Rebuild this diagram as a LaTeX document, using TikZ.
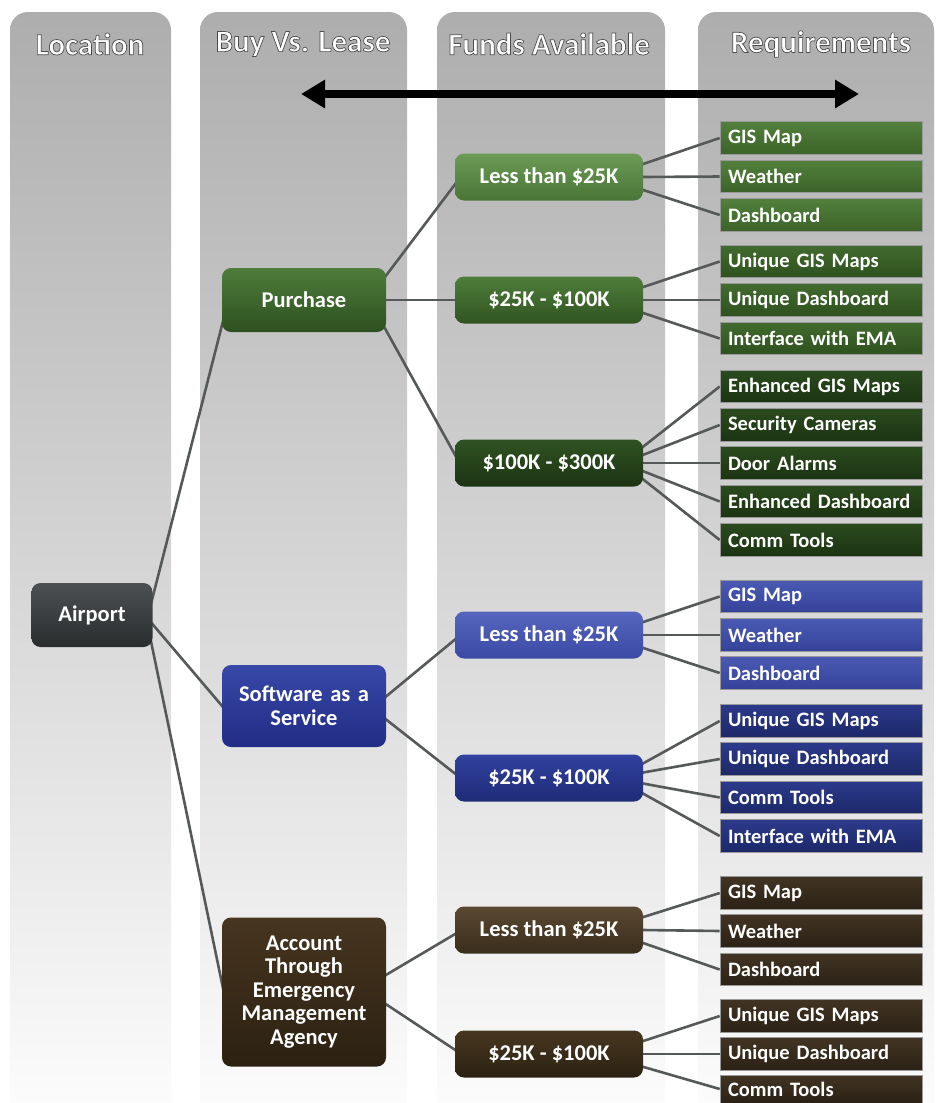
\documentclass[tikz,border=0pt]{standalone}
\usepackage{fontspec}
\setmainfont{Carlito}
\usetikzlibrary{calc,arrows.meta}
\pgfdeclarelayer{cols}
\pgfdeclarelayer{links}
\pgfsetlayers{cols,links,main}
\newcommand{\hdrtext}[1]{\special{pdf:literal direct 2 Tr 0.7 w 0.3 0.3 0.3 RG}#1\special{pdf:literal direct 0 Tr 0.4 w}}
\definecolor{linkc}{HTML}{56595A}
\definecolor{apT}{HTML}{4C5052}\definecolor{apB}{HTML}{2A2D2E}
\definecolor{puT}{HTML}{4F7C3A}\definecolor{puB}{HTML}{2C5020}
\definecolor{saT}{HTML}{3848A8}\definecolor{saB}{HTML}{212D86}
\definecolor{acT}{HTML}{46351F}\definecolor{acB}{HTML}{2C2112}
\definecolor{g1T}{HTML}{6C9B56}\definecolor{g1B}{HTML}{497536}
\definecolor{g2T}{HTML}{4F7D3A}\definecolor{g2B}{HTML}{2F5421}
\definecolor{g3T}{HTML}{2F5322}\definecolor{g3B}{HTML}{1C3313}
\definecolor{b1T}{HTML}{5666BE}\definecolor{b1B}{HTML}{3A4AA5}
\definecolor{b2T}{HTML}{3142A0}\definecolor{b2B}{HTML}{1E2B76}
\definecolor{r1T}{HTML}{5A4932}\definecolor{r1B}{HTML}{3A2D1C}
\definecolor{r2T}{HTML}{46361F}\definecolor{r2B}{HTML}{2C2213}
\definecolor{qgAT}{HTML}{52803C}\definecolor{qgAB}{HTML}{3C6329}
\definecolor{qgBT}{HTML}{426B2F}\definecolor{qgBB}{HTML}{2E511E}
\definecolor{qgCT}{HTML}{2B4B1E}\definecolor{qgCB}{HTML}{1B3312}
\definecolor{qbAT}{HTML}{4A5AB3}\definecolor{qbAB}{HTML}{34429A}
\definecolor{qbBT}{HTML}{2C3A8C}\definecolor{qbBB}{HTML}{1C2868}
\definecolor{qrT}{HTML}{423424}\definecolor{qrB}{HTML}{2B2115}
\begin{document}
\begin{tikzpicture}[x=1pt,y=-1pt,
  colshade/.style={top color=black!32, middle color=black!14, bottom color=white},
  hdr/.style={text=white, font=\fontsize{31}{31}\selectfont\bfseries, inner sep=0pt},
  link/.style={draw=linkc, line width=2.6pt},
  box/.style={rounded corners=9pt, text=white, align=center, inner sep=2pt,
    font=\fontsize{22.5}{23.5}\selectfont\bfseries},
  buy/.style={box, minimum width=164pt, text width=150pt},
  fund/.style={box, minimum width=188pt, minimum height=47pt},
  req/.style={rectangle, text=white, align=left, text width=186pt, inner xsep=8pt, inner ysep=0pt,
    minimum height=32.5pt, font=\fontsize{20.5}{20.5}\selectfont\bfseries,
    execute at begin node={\hyphenpenalty=10000\relax},
    draw=black!40, line width=0.6pt},
  c/.style={top color=#1T, bottom color=#1B},
]
\useasboundingbox (0,0) rectangle (938,1103);
\begin{pgfonlayer}{cols}
\fill[white] (0,0) rectangle (938,1103);
\begin{scope}
  \clip (0,0) rectangle (938,1103);
  \shade[colshade, rounded corners=18pt] (10,12) rectangle (171,1150);
  \shade[colshade, rounded corners=18pt] (200,12) rectangle (407,1150);
  \shade[colshade, rounded corners=18pt] (437,12) rectangle (665,1150);
  \shade[colshade, rounded corners=18pt] (698,12) rectangle (934,1150);
\end{scope}
\end{pgfonlayer}

% headers
\node[hdr] (h1) at (90,44) {\hdrtext{Location}};
\node[hdr] (h2) at (303,44) {\hdrtext{Buy Vs. Lease}};
\node[hdr] (h3) at (549,44) {\hdrtext{Funds Available}};
\node[hdr] (h4) at (821,44) {\hdrtext{Requirements}};

% double arrow
\coordinate (arrL) at (301,94);
\coordinate (arrR) at (859,94);
\draw[line width=8pt, {Triangle[length=24pt,width=27pt]}-{Triangle[length=24pt,width=27pt]}] (arrL) -- (arrR);

% nodes
\node[box, minimum width=121pt, minimum height=64pt, c=ap] (airport) at (92,615) {Airport};

\node[buy, minimum height=64pt, c=pu] (purchase) at (304,300) {Purchase};
\node[buy, minimum height=82pt, c=sa] (saas) at (304,706) {Software as a\\Service};
\node[buy, minimum height=149pt, c=ac] (account) at (304,992) {Account\\Through\\Emergency\\Management\\Agency};

\node[fund, c=g1] (g1) at (549,177) {Less than \$25K};
\node[fund, c=g2] (g2) at (549,300) {\$25K - \$100K};
\node[fund, c=g3] (g3) at (549,463) {\$100K - \$300K};
\node[fund, c=b1] (b1) at (549,635) {Less than \$25K};
\node[fund, c=b2] (b2) at (549,778) {\$25K - \$100K};
\node[fund, c=r1] (r1) at (549,930) {Less than \$25K};
\node[fund, c=r2] (r2) at (549,1054) {\$25K - \$100K};

% requirement boxes
\node[req, c=qgA] (gA1) at (821,138) {GIS Map};
\node[req, c=qgA] (gA2) at (821,176.5) {Weather};
\node[req, c=qgA] (gA3) at (821,215) {Dashboard};
\node[req, c=qgB] (gB1) at (821,261.5) {Unique GIS Maps};
\node[req, c=qgB] (gB2) at (821,300) {Unique Dashboard};
\node[req, c=qgB] (gB3) at (821,338.5) {Interface with EMA};
\node[req, c=qgC] (gC1) at (821,386.5) {Enhanced GIS Maps};
\node[req, c=qgC] (gC2) at (821,425) {Security Cameras};
\node[req, c=qgC] (gC3) at (821,463) {Door Alarms};
\node[req, c=qgC] (gC4) at (821,501.5) {Enhanced Dashboard};
\node[req, c=qgC] (gC5) at (821,540) {Comm Tools};

\node[req, c=qbA] (bA1) at (821,596.5) {GIS Map};
\node[req, c=qbA] (bA2) at (821,635) {Weather};
\node[req, c=qbA] (bA3) at (821,673) {Dashboard};
\node[req, c=qbB] (bB1) at (821,721) {Unique GIS Maps};
\node[req, c=qbB] (bB2) at (821,759) {Unique Dashboard};
\node[req, c=qbB] (bB3) at (821,797.5) {Comm Tools};
\node[req, c=qbB] (bB4) at (821,836) {Interface with EMA};

\node[req, c=qr] (rA1) at (821,893) {GIS Map};
\node[req, c=qr] (rA2) at (821,931) {Weather};
\node[req, c=qr] (rA3) at (821,969.5) {Dashboard};
\node[req, c=qr] (rB1) at (821,1016) {Unique GIS Maps};
\node[req, c=qr] (rB2) at (821,1054) {Unique Dashboard};
\node[req, c=qr, minimum height=28pt] (rB3) at (821,1089) {Comm Tools};

% connectors (behind nodes)
\begin{pgfonlayer}{links}
\draw[link] ($(airport.east)+(-2,-10)$) -- ($(purchase.west)+(2,18)$);
\draw[link] ($(airport.east)+(-2,7)$) -- ($(saas.west)+(2,2)$);
\draw[link] ($(airport.east)+(-2,25)$) -- ($(account.west)+(2,0)$);

\draw[link] ($(purchase.east)+(-2,-22)$) -- ($(g1.west)+(2,5)$);
\draw[link] (purchase.east) -- (g2.west);
\draw[link] ($(purchase.east)+(-2,27)$) -- ($(g3.west)+(2,-5)$);
\draw[link] ($(saas.east)+(-2,-8)$) -- ($(b1.west)+(2,3)$);
\draw[link] ($(saas.east)+(-2,12)$) -- ($(b2.west)+(2,-3)$);
\draw[link] ($(account.east)+(-2,-16)$) -- ($(r1.west)+(2,3)$);
\draw[link] ($(account.east)+(-2,11)$) -- ($(r2.west)+(2,-3)$);

\draw[link] ($(g1.east)+(-3,-12)$) -- (gA1.west);
\draw[link] (g1.east) -- (gA2.west);
\draw[link] ($(g1.east)+(-3,12)$) -- (gA3.west);
\draw[link] ($(g2.east)+(-3,-12)$) -- (gB1.west);
\draw[link] (g2.east) -- (gB2.west);
\draw[link] ($(g2.east)+(-3,12)$) -- (gB3.west);
\draw[link] ($(g3.east)+(-3,-14)$) -- (gC1.west);
\draw[link] ($(g3.east)+(-3,-7)$) -- (gC2.west);
\draw[link] (g3.east) -- (gC3.west);
\draw[link] ($(g3.east)+(-3,7)$) -- (gC4.west);
\draw[link] ($(g3.east)+(-3,14)$) -- (gC5.west);

\draw[link] ($(b1.east)+(-3,-12)$) -- (bA1.west);
\draw[link] (b1.east) -- (bA2.west);
\draw[link] ($(b1.east)+(-3,12)$) -- (bA3.west);
\draw[link] ($(b2.east)+(-3,-13)$) -- (bB1.west);
\draw[link] ($(b2.east)+(-3,-5)$) -- (bB2.west);
\draw[link] ($(b2.east)+(-3,5)$) -- (bB3.west);
\draw[link] ($(b2.east)+(-3,14)$) -- (bB4.west);

\draw[link] ($(r1.east)+(-3,-12)$) -- (rA1.west);
\draw[link] (r1.east) -- (rA2.west);
\draw[link] ($(r1.east)+(-3,12)$) -- (rA3.west);
\draw[link] ($(r2.east)+(-3,-12)$) -- (rB1.west);
\draw[link] (r2.east) -- (rB2.west);
\draw[link] ($(r2.east)+(-3,12)$) -- (rB3.west);
\end{pgfonlayer}
\end{tikzpicture}
\end{document}
